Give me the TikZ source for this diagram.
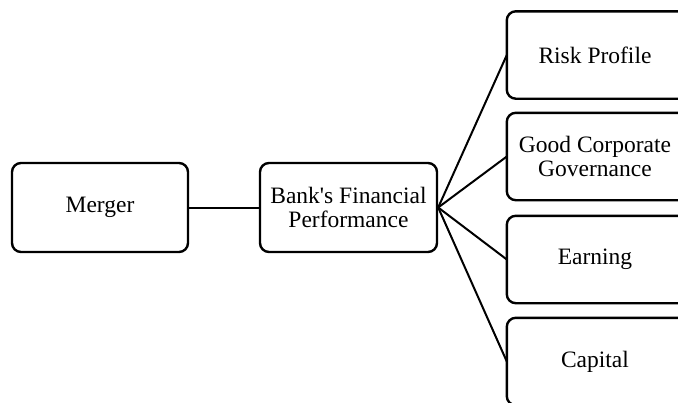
\documentclass[tikz,border=0pt]{standalone}
\usepackage{fontspec}
\setmainfont{Liberation Serif}
\usetikzlibrary{positioning}
\tikzset{frame/.style={line width=2.4pt,rounded corners=9pt}}
\tikzset{label box/.style={minimum width=176pt,minimum height=87pt,inner sep=0pt,align=center,font=\fontsize{23.5}{24}\selectfont}}
\tikzset{box/.style={label box,draw,frame}}
\tikzset{link/.style={line width=2pt}}

\begin{document}
\begin{tikzpicture}[x=1pt,y=-1pt]
 \useasboundingbox (0,0) rectangle (678,402);
 \clip (0,0) rectangle (678,402);

 \node [box,minimum height=89pt] (merger) at (100,207.5) {Merger};
 \node [box,minimum width=177pt,minimum height=89pt] (bank) at (348.5,207.5) {Bank\textquotesingle s Financial\\Performance};

 % right column runs past the page edge
 \node [label box] (risk) at (595,55) {Risk Profile};
 \node [label box] (gcg) at (595,156.5) {Good Corporate\\Governance};
 \node [label box] (earning) at (595,259.5) {Earning};
 \node [label box] (capital) at (595,361.5) {Capital};
 \foreach \n in {risk,gcg,earning,capital}
  \draw[frame] (\n.south west) rectangle ([xshift=24pt]\n.north east);

 \draw[link] (merger.east) -- (bank.west);
 \foreach \n in {risk,gcg,earning,capital}
  \draw[link] (bank.east) -- (\n.west);
\end{tikzpicture}
\end{document}
